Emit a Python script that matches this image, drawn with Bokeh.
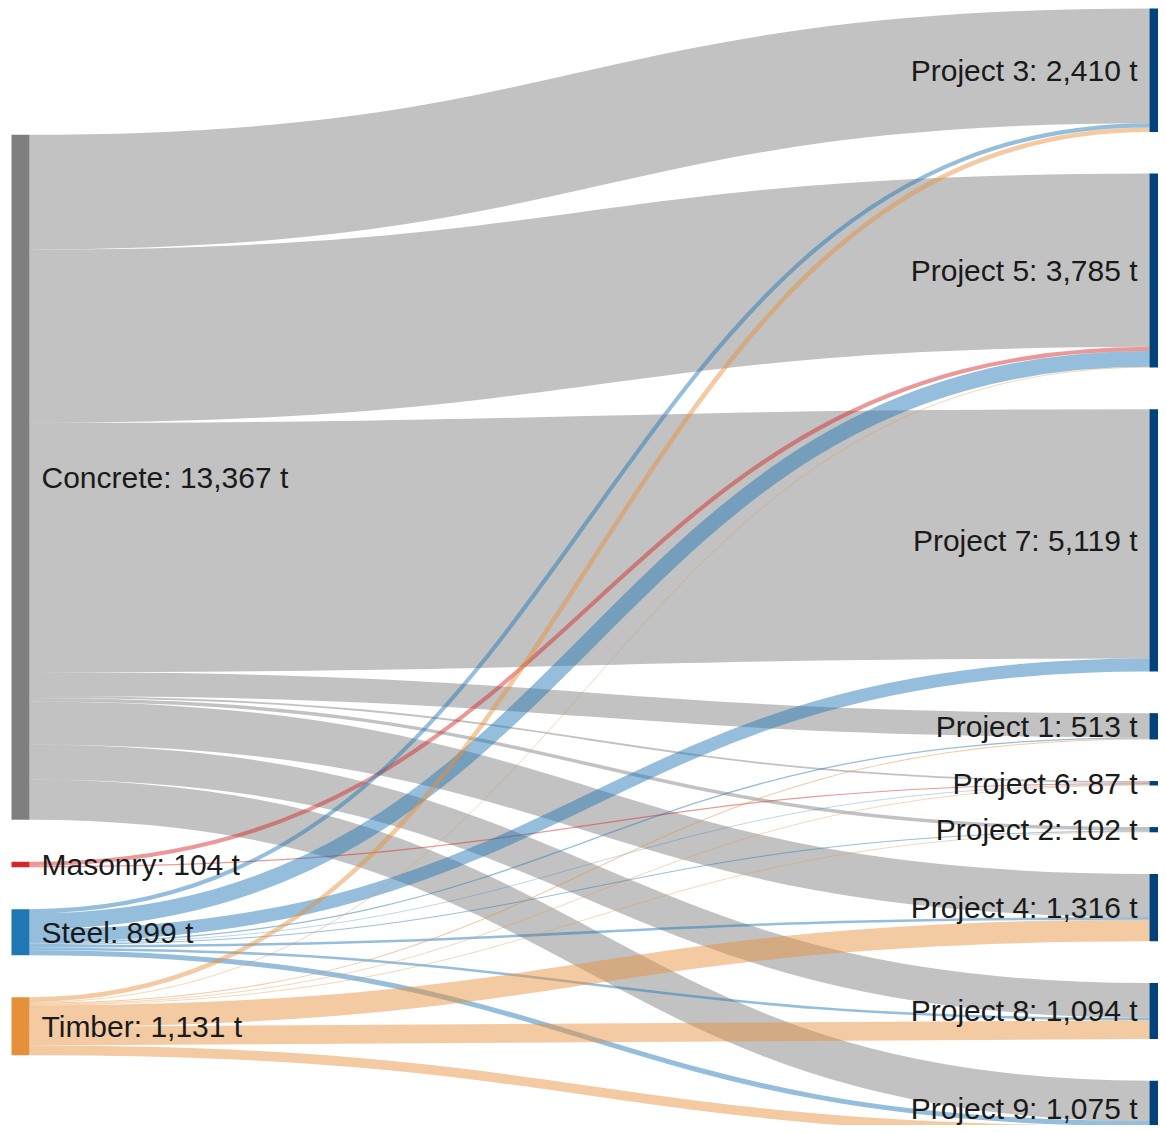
import numpy as np
from bokeh.plotting import figure
from bokeh.models import Range1d, ColumnDataSource
from bokeh.core.properties import value
from bokeh.embed import file_html
from bokeh.resources import INLINE

# ---------------- data ----------------
materials = ["Concrete", "Masonry", "Steel", "Timber"]
material_colors = ["#7f7f7f", "#d62728", "#1f77b4", "#e5913c"]
projects = ["Project 3", "Project 5", "Project 7", "Project 1", "Project 6",
            "Project 2", "Project 4", "Project 8", "Project 9"]
project_color = "#00427c"

# tonnes flowing from each material to each project (in project order above)
concrete_to = [2240, 3380, 4864, 468, 36, 68, 843, 679, 789]
masonry_to = [0, 80, 0, 0, 24, 0, 0, 0, 0]
steel_to = [80, 310, 255, 25, 12, 19, 50, 50, 98]
timber_to = [90, 15, 0, 20, 15, 15, 423, 365, 188]
flows = [concrete_to, masonry_to, steel_to, timber_to]

# ---------------- layout (pixel space) ----------------
K = 0.05125            # px per tonne
LEFT_X0, LEFT_X1 = 11, 29
RIGHT_X0, RIGHT_X1 = 1149, 1167
LEFT_TOP, LEFT_GAP = 134.3, 42.0
RIGHT_TOP, RIGHT_GAP = 8.0, 41.6
W, H = 1158, 1125

mat_tot = [sum(f) for f in flows]
proj_tot = [sum(f[j] for f in flows) for j in range(len(projects))]

mat_top, y = [], LEFT_TOP
for t in mat_tot:
    mat_top.append(y)
    y += t * K + LEFT_GAP
proj_top, y = [], RIGHT_TOP
for t in proj_tot:
    proj_top.append(y)
    y += t * K + RIGHT_GAP

links = {"x0": [], "y0": [], "x1": [], "y1": [], "cx0": [], "cy0": [],
         "cx1": [], "cy1": [], "w": [], "color": []}
src_pos = {}
for i, f in enumerate(flows):
    off = mat_top[i]
    for j, v in enumerate(f):
        if v > 0:
            src_pos[(i, j)] = off + v * K / 2
            off += v * K
tgt_pos = {}
for j in range(len(projects)):
    off = proj_top[j]
    for i, f in enumerate(flows):
        v = f[j]
        if v > 0:
            tgt_pos[(i, j)] = off + v * K / 2
            off += v * K
xm = (LEFT_X1 + RIGHT_X0) / 2
for i, f in enumerate(flows):
    for j, v in enumerate(f):
        if v <= 0:
            continue
        ys, yt = src_pos[(i, j)], tgt_pos[(i, j)]
        links["x0"].append(LEFT_X1); links["y0"].append(ys)
        links["x1"].append(RIGHT_X0); links["y1"].append(yt)
        links["cx0"].append(xm); links["cy0"].append(ys)
        links["cx1"].append(xm); links["cy1"].append(yt)
        links["w"].append(v * K)
        links["color"].append(material_colors[i])

p = figure(width=W, height=H, output_backend="svg", toolbar_location=None,
           x_range=Range1d(0, W), y_range=Range1d(H, 0),
           x_axis_type=None, y_axis_type=None, min_border=0,
           outline_line_color=None, background_fill_color="white",
           border_fill_color="white")
p.xgrid.visible = False
p.ygrid.visible = False

p.bezier(x0="x0", y0="y0", x1="x1", y1="y1", cx0="cx0", cy0="cy0",
         cx1="cx1", cy1="cy1", line_width="w", line_color="color",
         line_alpha=0.48, source=ColumnDataSource(links))

# nodes
p.quad(left=[LEFT_X0] * len(materials), right=[LEFT_X1] * len(materials),
       top=mat_top, bottom=[t + v * K for t, v in zip(mat_top, mat_tot)],
       fill_color=material_colors, line_color=None)
p.quad(left=[RIGHT_X0] * len(projects), right=[RIGHT_X1] * len(projects),
       top=proj_top, bottom=[t + v * K for t, v in zip(proj_top, proj_tot)],
       fill_color=project_color, line_color=None)

# labels
p.text(x=[41] * len(materials),
       y=[t + v * K / 2 for t, v in zip(mat_top, mat_tot)],
       text=[f"{n}: {v:,} t" for n, v in zip(materials, mat_tot)],
       text_font=value("Liberation Sans"), text_font_size="30px",
       text_align="left", text_baseline="middle", text_color="#1a1a1a")
p.text(x=[1137] * len(projects),
       y=[t + v * K / 2 for t, v in zip(proj_top, proj_tot)],
       text=[f"{n}: {v:,} t" for n, v in zip(projects, proj_tot)],
       text_font=value("Liberation Sans"), text_font_size="30px",
       text_align="right", text_baseline="middle", text_color="#1a1a1a")

open("out.html", "w").write(file_html(p, INLINE))
